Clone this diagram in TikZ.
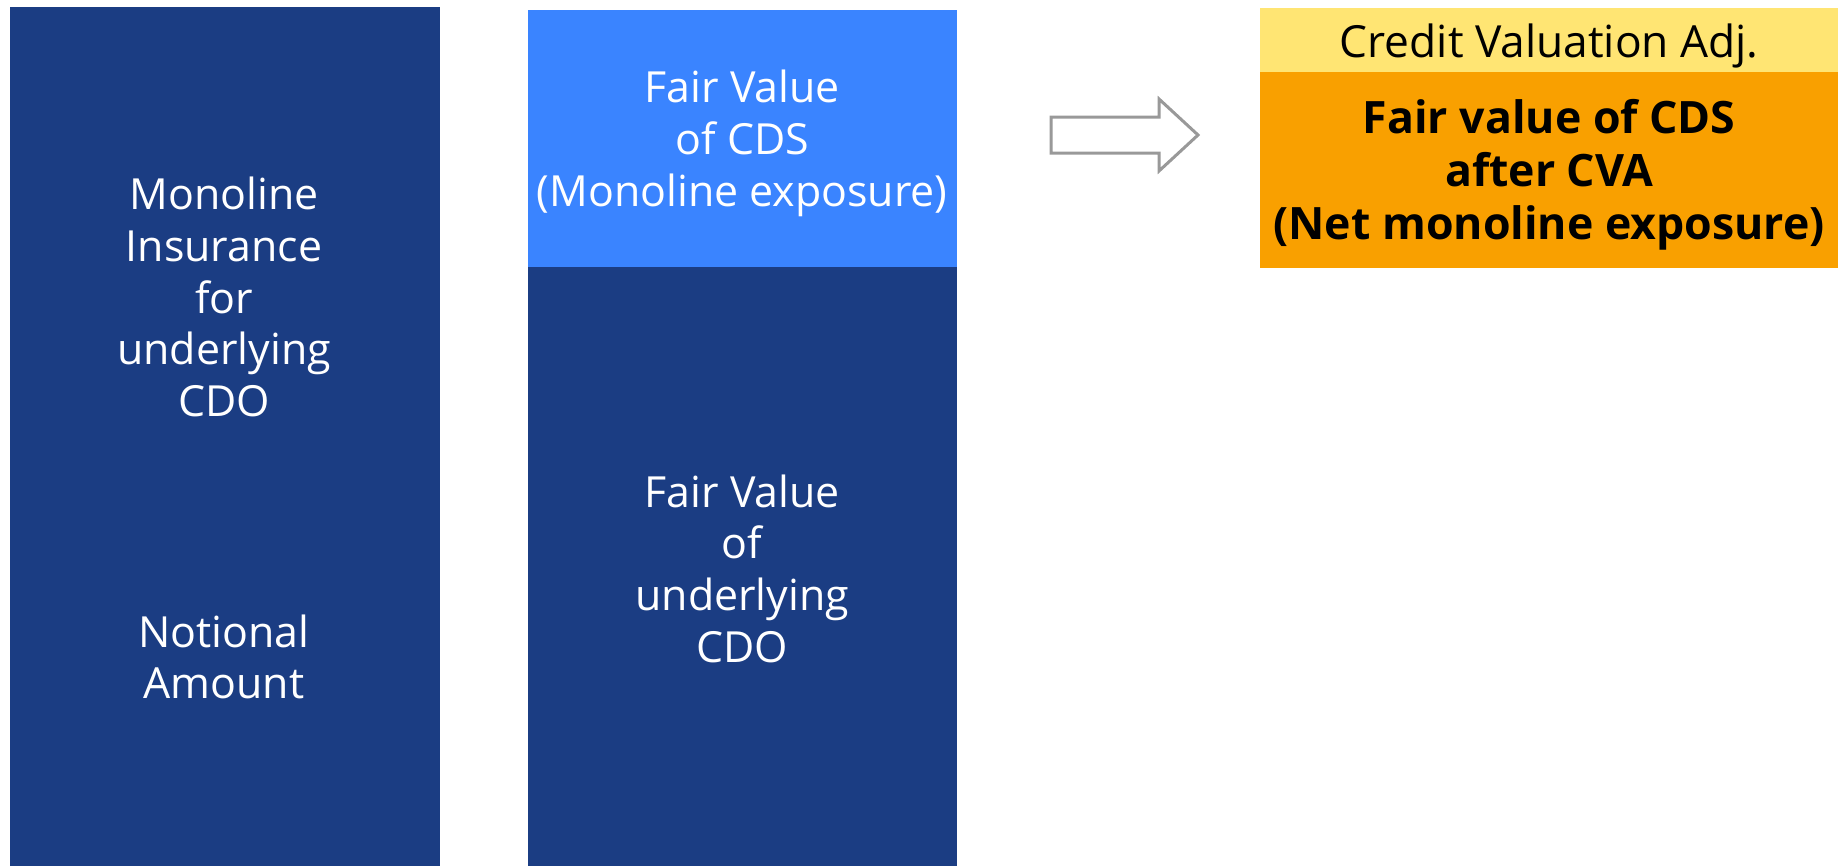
\documentclass[tikz,border=0pt]{standalone}
\usepackage{fontspec}
\setmainfont{Open Sans}
\definecolor{navy}{RGB}{27,61,131}
\definecolor{skyblue}{RGB}{58,132,255}
\definecolor{paleyellow}{RGB}{255,229,115}
\definecolor{amber}{RGB}{249,160,0}
\definecolor{arrowgray}{RGB}{153,153,153}
\begin{document}
\begin{tikzpicture}[x=0.1mm, y=-0.1mm,
  block/.style={rectangle, inner sep=0pt, anchor=north west, draw=none},
  whitetext/.style={text=white, align=center, font=\fontsize{12.2}{14.7}\selectfont},
  blacktext/.style={text=black, align=center, font=\fontsize{12.6}{15}\selectfont},
  boldtext/.style={text=black, align=center, font=\fontsize{12.7}{15.2}\selectfont\bfseries},
  hollowarrow/.style={draw=arrowgray, fill=white, line width=0.3mm, line join=miter}]
  \useasboundingbox (0,0) rectangle (1838,865);

  % left column: insurance on the notional amount
  \node[block, fill=navy, minimum width=43mm, minimum height=85.9mm] (insbox) at (9,6) {};
  \node[whitetext] (instext) at (224,297) {Monoline\\Insurance\\for\\underlying\\CDO};
  \node[whitetext] (nottext) at (224,657) {Notional\\Amount};

  % middle column: CDS fair value on top of the CDO fair value
  \node[block, fill=skyblue, minimum width=42.9mm, minimum height=25.7mm] (cdsbox) at (527,9) {};
  \node[whitetext, yshift=-0.5mm] at (cdsbox.center) {Fair Value\\of CDS\\(Monoline exposure)};
  \node[block, fill=navy, minimum width=42.9mm, minimum height=59.9mm] (cdobox) at (527,266) {};
  \node[whitetext, yshift=-0.25mm] at (cdobox.center) {Fair Value\\of\\underlying\\CDO};

  % hollow arrow
  \draw[hollowarrow] (1051,117) -- (1159,117) -- (1159,99) -- (1198,135)
        -- (1159,171) -- (1159,153) -- (1051,153) -- cycle;

  % right column: value after credit valuation adjustment
  \node[block, fill=paleyellow, minimum width=57.9mm, minimum height=6.4mm] (cvabox) at (1259,7) {};
  \node[blacktext, yshift=-0.6mm] at (cvabox.center) {Credit Valuation Adj.};
  \node[block, fill=amber, minimum width=57.9mm, minimum height=19.6mm] (netbox) at (1259,71) {};
  \node[boldtext, yshift=-0.5mm] at (netbox.center) {Fair value of CDS\\after CVA\\(Net monoline exposure)};
\end{tikzpicture}
\end{document}
